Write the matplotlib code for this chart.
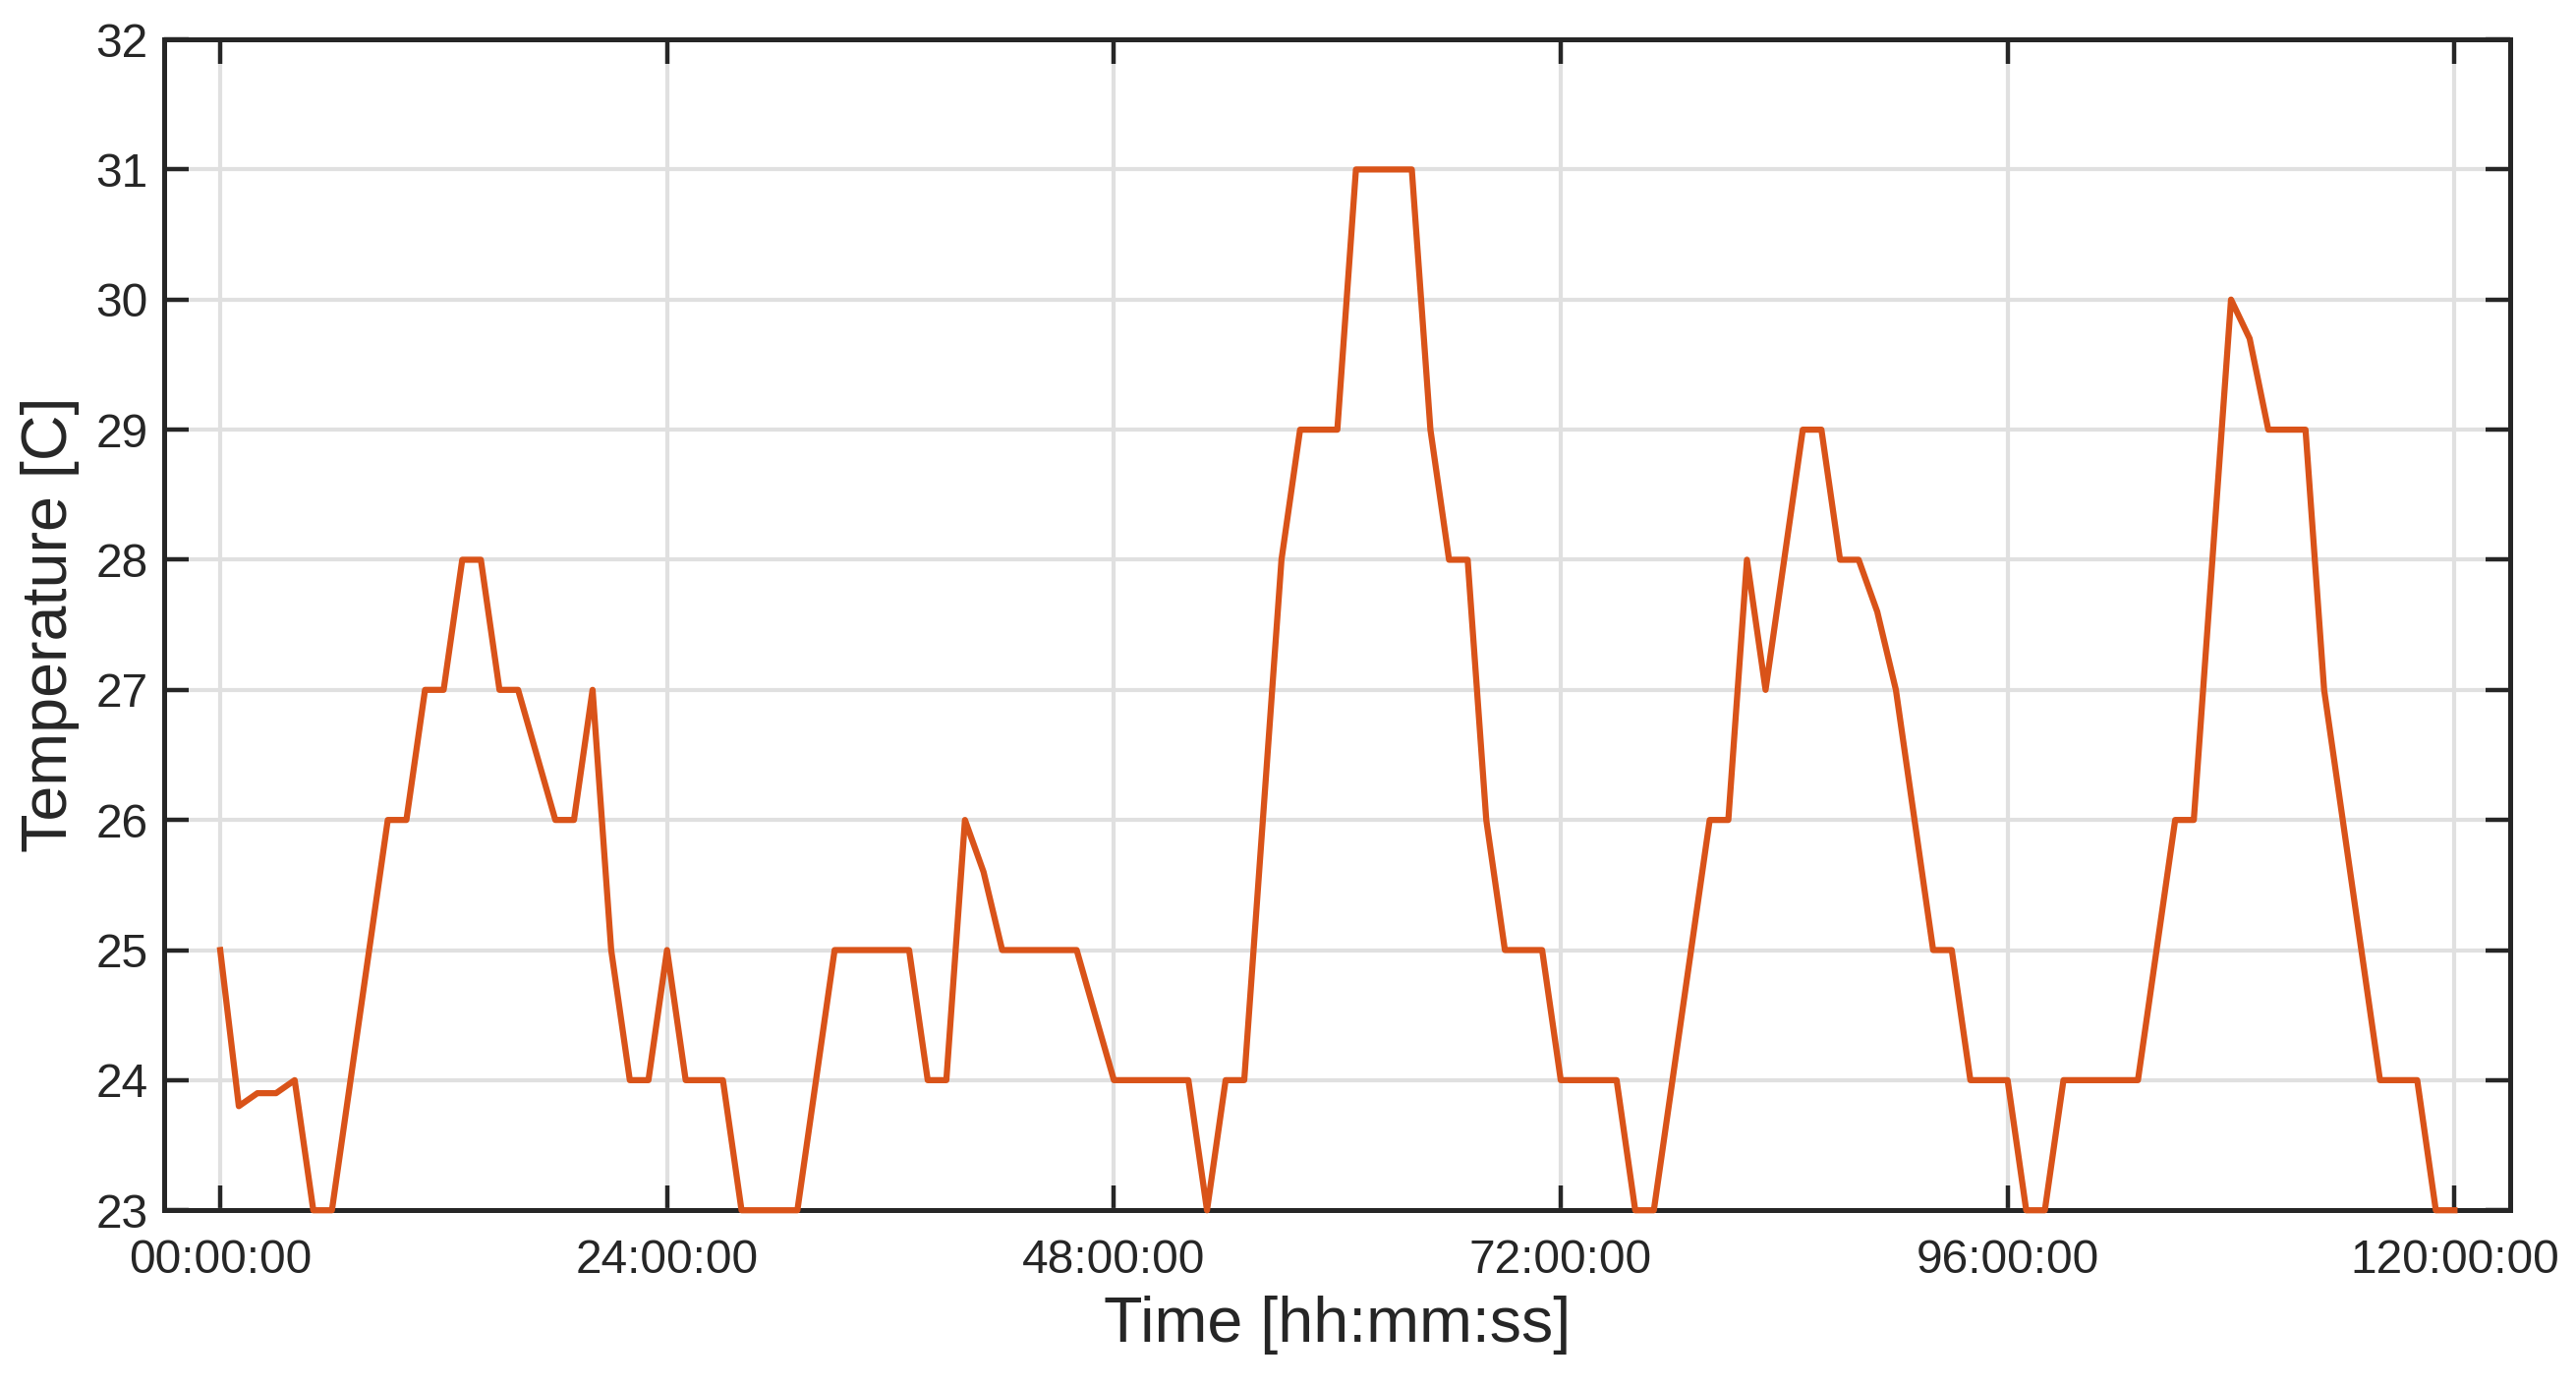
import numpy as np
import matplotlib
matplotlib.use("Agg")
from matplotlib import pyplot as plt
from matplotlib.ticker import FuncFormatter

plt.rcParams['font.family'] = ['Liberation Sans', 'DejaVu Sans']

#--------------data (hourly samples)-------------------
hours = list(range(0, 121))
temp = [25, 23.8, 23.9, 23.9, 24, 23, 23, 24, 25, 26,
        26, 27, 27, 28, 28, 27, 27, 26.5, 26, 26,
        27, 25, 24, 24, 25, 24, 24, 24, 23, 23,
        23, 23, 24, 25, 25, 25, 25, 25, 24, 24,
        26, 25.6, 25, 25, 25, 25, 25, 24.5, 24, 24,
        24, 24, 24, 23, 24, 24, 26, 28, 29, 29,
        29, 31, 31, 31, 31, 29, 28, 28, 26, 25,
        25, 25, 24, 24, 24, 24, 23, 23, 24, 25,
        26, 26, 28, 27, 28, 29, 29, 28, 28, 27.6,
        27, 26, 25, 25, 24, 24, 24, 23, 23, 24,
        24, 24, 24, 24, 25, 26, 26, 28, 30, 29.7,
        29, 29, 29, 27, 26, 25, 24, 24, 24, 23,
        23]
xticks = [0, 24, 48, 72, 96, 120]
yticks = [23, 24, 25, 26, 27, 28, 29, 30, 31, 32]

#--------------figure-------------------
fig = plt.figure(figsize=(26.21, 14.10), dpi=100)
ax = fig.add_axes([0.0638, 0.1268, 0.9107, 0.8448])

ax.plot(hours, temp, color='#D95319', linewidth=4.5, zorder=3, clip_on=False)

ax.set_xlim(-3, 123)
ax.set_ylim(23, 32)
ax.set_xticks(xticks)
ax.set_yticks(yticks)
ax.xaxis.set_major_formatter(FuncFormatter(lambda v, p: "%02d:00:00" % int(round(v))))

ax.grid(True, color='#e0e0e0', linewidth=3)
ax.set_axisbelow(True)
ax.tick_params(direction='in', length=18, width=3.2, colors='#262626',
               labelsize=34.5, top=True, right=True)
ax.tick_params(axis='x', pad=21)
ax.tick_params(axis='y', pad=12)
for s in ax.spines.values():
    s.set_linewidth(3.6)
    s.set_color('#262626')

ax.set_xlabel('Time [hh:mm:ss]', fontsize=46.5, color='#262626', labelpad=9)
ax.set_ylabel('Temperature [C]', fontsize=46.5, color='#262626', labelpad=12)

plt.savefig('out.png', dpi=100)
